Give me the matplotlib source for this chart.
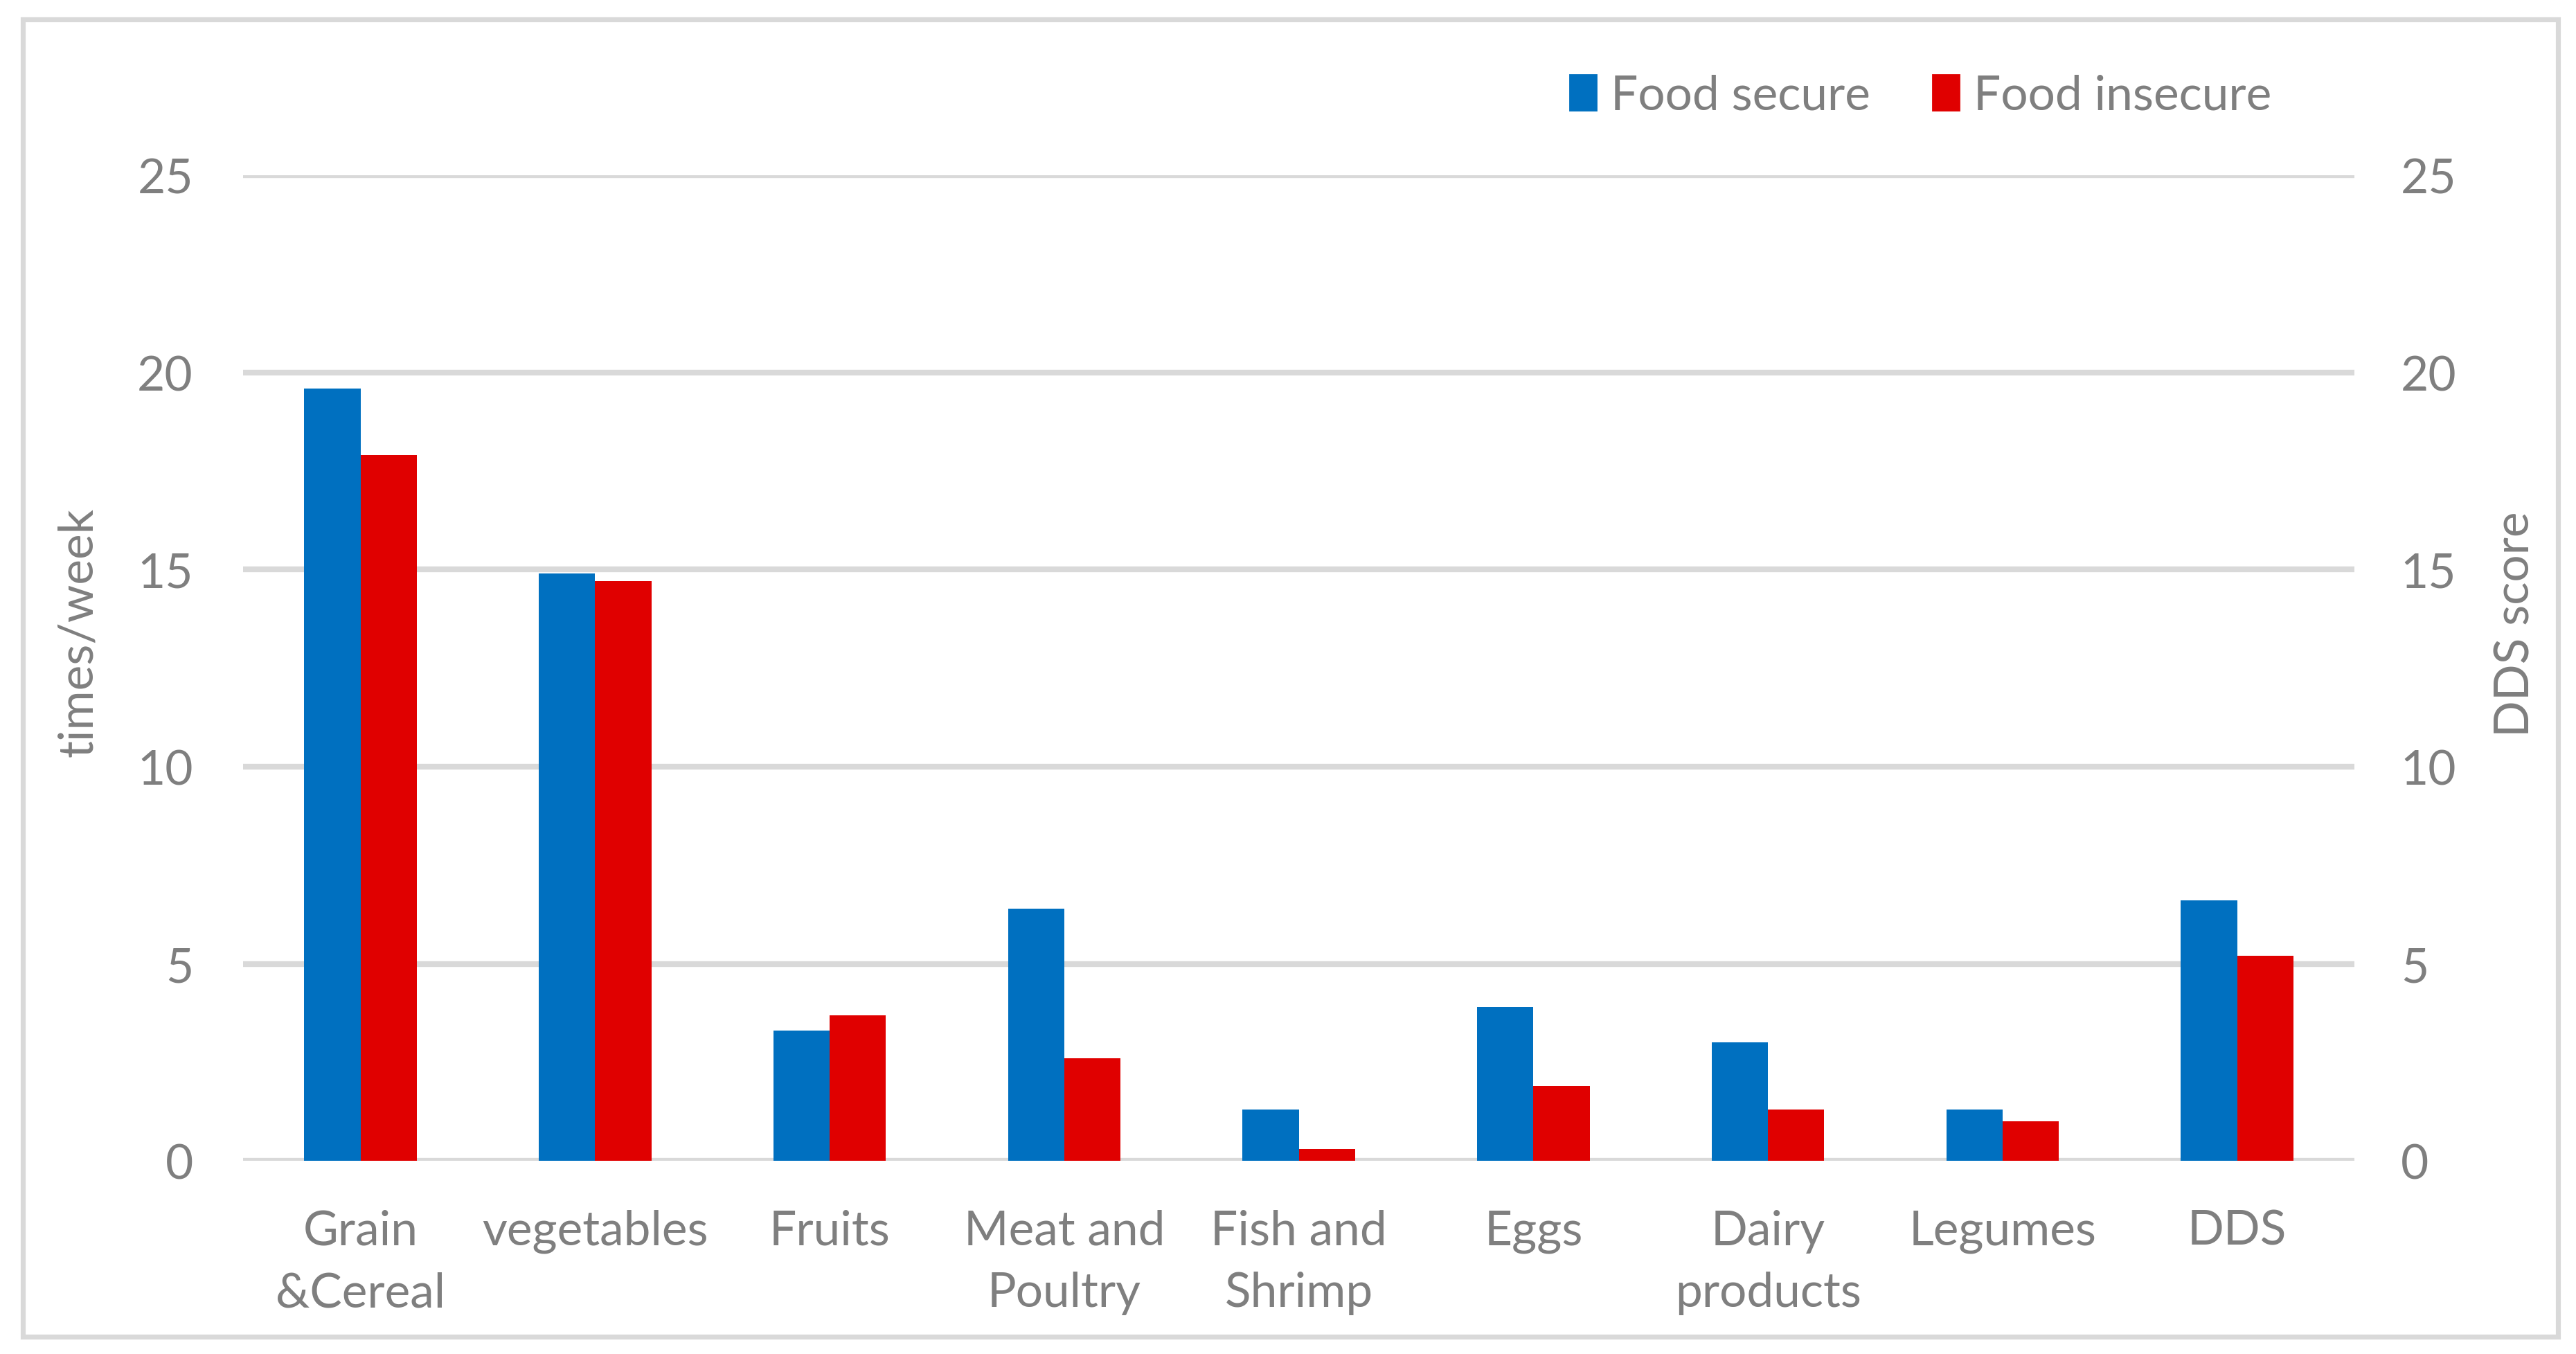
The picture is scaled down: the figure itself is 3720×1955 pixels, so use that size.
import matplotlib
matplotlib.use("Agg")
import matplotlib.pyplot as plt
from matplotlib.patches import Patch, Rectangle
import numpy as np

# ── data ──────────────────────────────────────
categories = ["Grain\n&Cereal", "vegetables", "Fruits", "Meat and\nPoultry",
              "Fish and\nShrimp", "Eggs", "Dairy\nproducts", "Legumes", "DDS"]
food_secure = [19.6, 14.9, 3.3, 6.4, 1.3, 3.9, 3.0, 1.3, 6.6]
food_insecure = [17.9, 14.7, 3.7, 2.6, 0.3, 1.9, 1.3, 1.0, 5.2]
y_ticks = [0, 5, 10, 15, 20, 25]
series_names = ["Food secure", "Food insecure"]

BLUE = "#0070C0"
RED = "#E00000"
GREY_TXT = "#7F7F7F"
GRID = "#D9D9D9"
FS = 25

plt.rcParams["font.family"] = ["Lato", "DejaVu Sans"]

fig = plt.figure(figsize=(18.6, 9.78), dpi=200)
ax = fig.add_axes([0.0944, 0.1426, 0.8196, 0.7274])

x = np.arange(len(categories))
w = 0.24
ax.bar(x - w / 2, food_secure, w, color=BLUE, zorder=3)
ax.bar(x + w / 2, food_insecure, w, color=RED, zorder=3)

ax.set_xlim(-0.5, len(categories) - 0.5)
ax.set_ylim(0, 25)
ax.set_yticks(y_ticks)
ax.yaxis.grid(True, color=GRID, linewidth=3.0, zorder=0)
ax.set_axisbelow(True)
for s in ax.spines.values():
    s.set_visible(False)
ax.set_xticks(x)
ax.set_xticklabels(categories, linespacing=1.52)
ax.tick_params(axis="x", length=0, pad=25, labelsize=FS, labelcolor=GREY_TXT)
ax.tick_params(axis="y", length=0, pad=26, labelsize=FS, labelcolor=GREY_TXT)

ax2 = ax.twinx()
ax2.set_ylim(0, 25)
ax2.set_yticks(y_ticks)
for s in ax2.spines.values():
    s.set_visible(False)
ax2.tick_params(axis="y", length=0, pad=24, labelsize=FS, labelcolor=GREY_TXT)

# axis titles
fig.text(0.0305, 0.533, "times/week", rotation=90, ha="center", va="center",
         fontsize=FS, color=GREY_TXT)
fig.text(0.9765, 0.539, "DDS score", rotation=90, ha="center", va="center",
         fontsize=FS, color=GREY_TXT)

handles = [Patch(color=BLUE), Patch(color=RED)]
fig.legend(handles, series_names, loc="center", bbox_to_anchor=(0.7456, 0.929),
           ncol=2, frameon=False, fontsize=FS, labelcolor=GREY_TXT,
           handlelength=0.55, handleheight=0.75, handletextpad=0.3,
           columnspacing=1.3)

# outer chart frame
fig.add_artist(Rectangle((0.009, 0.013), 0.984, 0.972, transform=fig.transFigure,
                         fill=False, edgecolor=GRID, linewidth=2.6))

fig.savefig("out.png", dpi=200)
